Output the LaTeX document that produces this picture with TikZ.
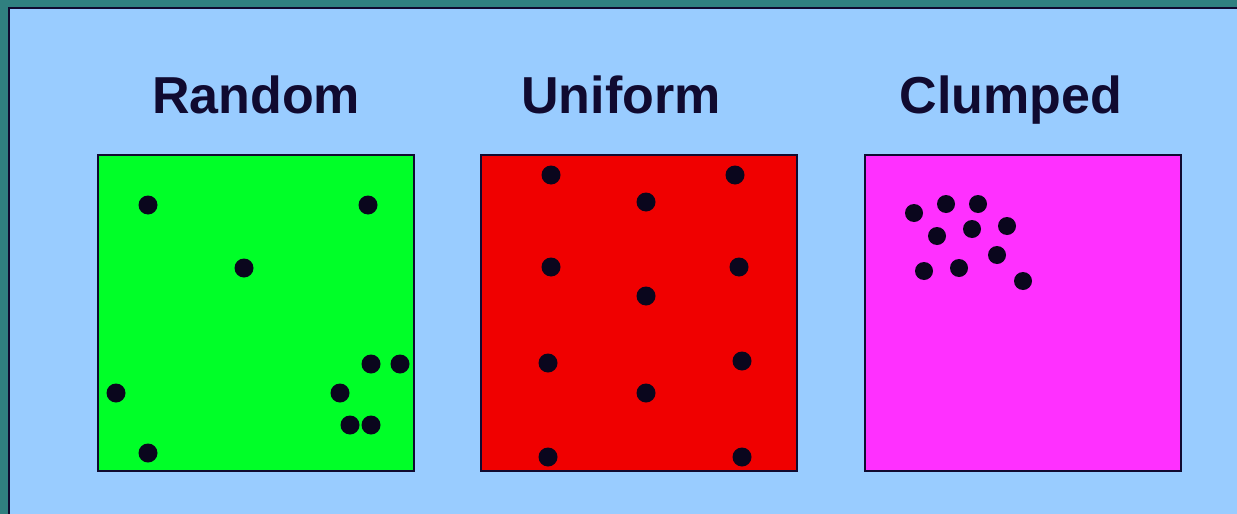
\documentclass[tikz,border=0pt]{standalone}
\usepackage{fontspec}
\setmainfont{Liberation Sans}
\usepackage{xcolor}
\usetikzlibrary{positioning}
\definecolor{frame}{RGB}{48,128,128}
\definecolor{panelblue}{RGB}{153,204,255}
\definecolor{ink}{RGB}{16,10,48}
\definecolor{grass}{RGB}{0,255,40}
\definecolor{flame}{RGB}{240,0,0}
\definecolor{pinkish}{RGB}{255,48,255}
\tikzset{
  title/.style={font=\fontsize{52}{60}\selectfont\bfseries, text=ink, anchor=base, inner sep=0pt},
  field/.style={draw=ink, line width=2.5pt, minimum width=316pt, minimum height=316pt, inner sep=0pt},
  dot/.style={fill=ink!60!black}}

\begin{document}
\begin{tikzpicture}[x=1pt,y=-1pt]
  \useasboundingbox (0,0) rectangle (1237,514);
  % frame and panel
  \fill[frame] (0,0) rectangle (1237,514);
  \filldraw[fill=panelblue, draw=ink, line width=2.5pt] (9,8) rectangle (1250,530);
  % titles
  \node[title] (trandom) at (256,113) {Random};
  \node[title] (tuniform) at (621,113) {Uniform};
  \node[title] (tclumped) at (1011,113) {Clumped};
  % fields
  \node[field, fill=grass] (random) at (256,313) {};
  \node[field, fill=flame] (uniform) at (639,313) {};
  \node[field, fill=pinkish] (clumped) at (1023,313) {};
  % random dots
  \foreach \x/\y in {148/205, 368/205, 244/268, 371/364, 400/364, 116/393, 340/393, 350/425, 371/425, 148/453}
    \fill[dot] (\x,\y) circle (9.5);
  % uniform dots
  \foreach \x/\y in {551/175, 646/202, 735/175, 551/267, 646/296, 739/267, 548/363, 646/393, 742/361, 548/457, 742/457}
    \fill[dot] (\x,\y) circle (9.5);
  % clumped dots
  \foreach \x/\y in {914/213, 946/204, 978/204, 1007/226, 972/229, 937/236, 997/255, 924/271, 959/268, 1023/281}
    \fill[dot] (\x,\y) circle (9);
\end{tikzpicture}
\end{document}
